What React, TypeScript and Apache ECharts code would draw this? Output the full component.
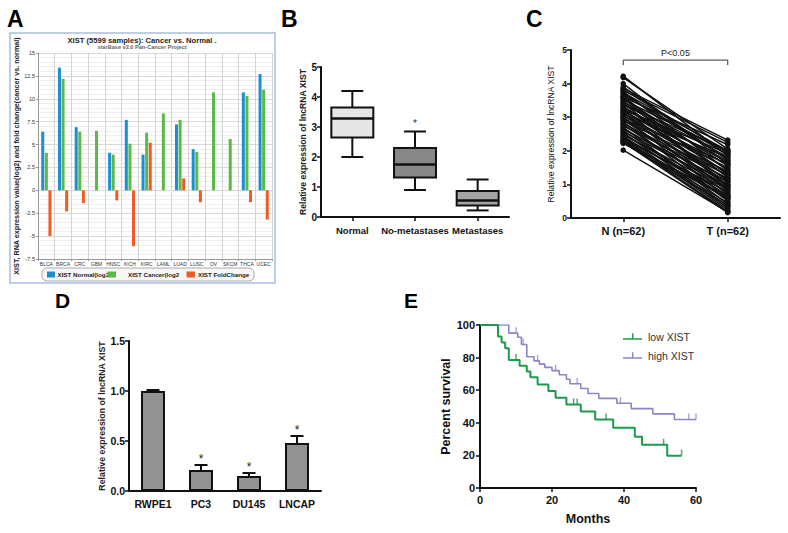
import React, { useEffect, useRef } from "react";
import * as echarts from "echarts";

// ---------- Panel A data ----------
const cancerTypes = ["BLCA", "BRCA", "CRC", "GBM", "HNSC", "KICH", "KIRC", "LAML", "LUAD", "LUSC", "OV", "SKCM", "THCA", "UCEC"];
const normalLog2: (number | string)[] = [6.4, 13.4, 6.9, "-", 4.1, 7.7, 3.9, "-", 7.2, 4.5, "-", "-", 10.7, 12.7];
const cancerLog2: (number | string)[] = [4.1, 12.2, 6.4, 6.5, 3.9, 5.1, 6.3, 8.4, 7.7, 4.2, 10.7, 5.6, 10.3, 11.0];
const foldChange: (number | string)[] = [-5.0, -2.3, -1.4, "-", -1.1, -6.1, 5.2, "-", 1.3, -1.3, "-", "-", -1.3, -3.2];
const aLegend = ["XIST Normal(log2", "XIST Cancer(log2", "XIST FoldChange"];
const aTitle = "XIST (5599 samples): Cancer vs. Normal .";
const aSubtitle = "starBase v2.0 Pan-Cancer Project";
const aYName = "XIST, RNA expression value(log2) and fold change(cancer vs. normal)";

// ---------- Panel B data ----------
const boxGroups = ["Normal", "No-metastases", "Metastases"];
// [min, Q1, median, Q3, max]
const boxNormal = [2.0, 2.65, 3.28, 3.65, 4.2];
const boxNoMet = [0.9, 1.32, 1.75, 2.3, 2.85];
const boxMet = [0.22, 0.38, 0.55, 0.87, 1.25];
const boxStars = ["", "*", ""];

// ---------- Panel C data ----------
const pairLabels = ["N (n=62)", "T (n=62)"];
const pairedN = [4.22, 4.18, 4.0, 3.86, 3.82, 3.8, 3.76, 3.73, 3.7, 3.66, 3.62, 3.6, 3.55, 3.52, 3.48, 3.45, 3.42, 3.4, 3.36, 3.33, 3.3, 3.28, 3.25, 3.22, 3.2, 3.17, 3.14, 3.12, 3.1, 3.06, 3.03, 3.0, 2.98, 2.95, 2.92, 2.9, 2.86, 2.83, 2.8, 2.77, 2.74, 2.7, 2.67, 2.64, 2.6, 2.57, 2.54, 2.5, 2.47, 2.44, 2.41, 2.38, 2.35, 2.32, 2.3, 2.28, 2.26, 2.24, 2.22, 3.9, 3.58, 2.02];
const pairedT = [1.85, 2.05, 1.6, 2.32, 1.95, 2.25, 1.4, 2.0, 1.75, 1.9, 1.2, 2.18, 1.55, 1.98, 1.3, 1.82, 0.95, 1.65, 2.02, 1.1, 1.45, 1.7, 0.8, 1.92, 1.35, 1.58, 0.7, 1.25, 1.8, 1.05, 1.5, 0.6, 1.15, 1.62, 0.9, 1.38, 0.5, 1.0, 1.28, 0.75, 1.18, 0.42, 0.88, 1.08, 0.55, 0.98, 0.35, 0.68, 0.85, 0.3, 0.62, 0.25, 0.78, 0.45, 0.2, 0.58, 0.16, 0.38, 0.65, 1.72, 0.92, 0.18];
const pText = "P<0.05";
const bracketLevel = 4.7;
const bracketFoot = 4.55;

// ---------- Panel D data ----------
const cellLines = ["RWPE1", "PC3", "DU145", "LNCAP"];
const cellMeans = [1.0, 0.21, 0.15, 0.48];
const cellErr = [0.01, 0.05, 0.03, 0.07];
const cellStars = ["", "*", "*", "*"];

// ---------- Panel E data ----------
const lowName = "low XIST";
const highName = "high XIST";
const lowCurve = [[0, 100], [5, 92.9], [6, 89.3], [7, 85.7], [8, 78.6], [11, 75], [13, 71.4], [14, 67.9], [16, 63.5], [19, 59.5], [21, 55.4], [24, 51.3], [28, 47], [32, 42], [37, 37], [43, 31.5], [45, 26.5], [52, 19.8], [56, 19.8]];
const lowCensor = [[10, 78.6], [26, 51.3], [27, 51.3], [35, 42], [51, 26.5], [56, 19.8]];
const highCurve = [[0, 100], [8, 95], [10.5, 92.5], [11.5, 88], [13, 80.5], [15, 78], [16.5, 76], [18, 74], [20, 72], [22, 69.5], [24, 66.7], [25, 64], [28, 61], [30, 58], [33, 55], [38, 52], [42, 48.7], [48, 45.5], [54, 42], [60, 42]];
const highCensor = [[10, 95], [12, 88], [16, 78], [21, 72], [27, 64], [39, 52], [58, 42], [60, 42]];

const FONT = "Liberation Sans, Arial, sans-serif";
const A_COLORS = ["#1b8fd2", "#5cb847", "#ef5b24"];
const BOX_FILLS = ["#e6e6e6", "#878787", "#a4a4a4"];

function buildOption(): any {
  const blackAxis = { lineStyle: { color: "#111", width: 2 } };
  const blackTick = { show: true, length: 4, lineStyle: { color: "#111", width: 1.5 } };

  const cSeries = pairedN.map((n, i) => ({
    type: "line",
    xAxisIndex: 2,
    yAxisIndex: 2,
    data: [n, pairedT[i]],
    symbol: "circle",
    symbolSize: 5.5,
    lineStyle: { color: "#111", width: 1.5 },
    itemStyle: { color: "#111" },
    silent: true,
    z: 3,
  }));

  return {
    animation: false,
    backgroundColor: "#fff",
    textStyle: { fontFamily: FONT },
    grid: [
      { left: 38, top: 53, width: 234, height: 206 },
      { left: 321, top: 67, width: 188, height: 150 },
      { left: 571, top: 50, width: 209, height: 168 },
      { left: 129, top: 341, width: 192, height: 150 },
      { left: 480, top: 325, width: 216, height: 163 },
    ],
    legend: [
      {
        data: [lowName, highName],
        orient: "vertical",
        left: 618,
        top: 326,
        itemWidth: 19,
        itemHeight: 8,
        itemGap: 8,
        icon: "path://M0,6L19,6L19,7.6L0,7.6Z M9,1L10.4,1L10.4,6L9,6Z",
        textStyle: { fontSize: 10.5, color: "#333", fontFamily: FONT, padding: [0, 0, 0, 1] },
      },
    ],
    xAxis: [
      {
        gridIndex: 0,
        type: "category",
        data: cancerTypes,
        axisLine: { onZero: false, lineStyle: { color: "#999", width: 1 } },
        axisTick: { show: true, length: 2, lineStyle: { color: "#999" } },
        axisLabel: { fontSize: 5, color: "#333", interval: 0, margin: 2 },
        splitLine: { show: true, lineStyle: { color: "#d4d4d4", width: 1 } },
      },
      {
        gridIndex: 1,
        type: "category",
        data: boxGroups,
        axisLine: blackAxis,
        axisTick: { ...blackTick, alignWithLabel: true },
        axisLabel: { fontSize: 9.5, fontWeight: "bold", color: "#111", margin: 8, interval: 0, hideOverlap: false },
      },
      {
        gridIndex: 2,
        type: "category",
        data: pairLabels,
        axisLine: blackAxis,
        axisTick: { ...blackTick, alignWithLabel: true },
        axisLabel: { fontSize: 11, fontWeight: "bold", color: "#111", margin: 7, interval: 0 },
      },
      {
        gridIndex: 3,
        type: "category",
        data: cellLines,
        axisLine: blackAxis,
        axisTick: { show: false },
        axisLabel: { fontSize: 10.5, fontWeight: "bold", color: "#111", margin: 7, interval: 0, hideOverlap: false },
      },
      {
        gridIndex: 4,
        type: "value",
        min: 0,
        max: 60,
        interval: 20,
        axisLine: { show: true, lineStyle: { color: "#111", width: 2 } },
        axisTick: blackTick,
        axisLabel: { fontSize: 11, fontWeight: "bold", color: "#111", margin: 6 },
        splitLine: { show: false },
        name: "Months",
        nameLocation: "middle",
        nameGap: 24,
        nameTextStyle: { fontSize: 12.5, fontWeight: "bold", color: "#111" },
      },
    ],
    yAxis: [
      {
        gridIndex: 0,
        type: "value",
        min: -7.5,
        max: 15,
        interval: 2.5,
        axisLine: { show: true, lineStyle: { color: "#999", width: 1 } },
        axisTick: { show: true, length: 2, lineStyle: { color: "#999" } },
        axisLabel: { fontSize: 5.5, color: "#333", margin: 3 },
        splitLine: { show: true, lineStyle: { color: "#d8d8d8", width: 1 } },
        minorTick: { show: false, splitNumber: 5 },
        minorSplitLine: { show: true, lineStyle: { color: "#efefef", width: 1 } },
        name: aYName,
        nameLocation: "middle",
        nameGap: 16,
        nameTextStyle: { fontSize: 7.2, fontWeight: "bold", color: "#222" },
      },
      {
        gridIndex: 1,
        type: "value",
        min: 0,
        max: 5,
        interval: 1,
        axisLine: { show: true, ...blackAxis },
        axisTick: blackTick,
        axisLabel: { fontSize: 10, fontWeight: "bold", color: "#111", margin: 4 },
        splitLine: { show: false },
        name: "Relative expression of lncRNA XIST",
        nameLocation: "middle",
        nameGap: 14,
        nameTextStyle: { fontSize: 8.6, fontWeight: "bold", color: "#222" },
      },
      {
        gridIndex: 2,
        type: "value",
        min: 0,
        max: 5,
        interval: 1,
        axisLine: { show: true, ...blackAxis },
        axisTick: blackTick,
        axisLabel: { fontSize: 8.5, fontWeight: "bold", color: "#111", margin: 4 },
        splitLine: { show: false },
        name: "Relative expression of lncRNA XIST",
        nameLocation: "middle",
        nameGap: 16,
        nameTextStyle: { fontSize: 8.6, color: "#111" },
      },
      {
        gridIndex: 3,
        type: "value",
        min: 0,
        max: 1.5,
        interval: 0.5,
        axisLine: { show: true, ...blackAxis },
        axisTick: blackTick,
        axisLabel: { fontSize: 10.5, fontWeight: "bold", color: "#111", margin: 4, formatter: (v: number) => v.toFixed(1) },
        splitLine: { show: false },
        name: "Relative expression of lncRNA XIST",
        nameLocation: "middle",
        nameGap: 21,
        nameTextStyle: { fontSize: 8.8, fontWeight: "bold", color: "#222" },
      },
      {
        gridIndex: 4,
        type: "value",
        min: 0,
        max: 100,
        interval: 20,
        axisLine: { show: true, lineStyle: { color: "#111", width: 2 } },
        axisTick: blackTick,
        axisLabel: { fontSize: 11, fontWeight: "bold", color: "#111", margin: 5 },
        splitLine: { show: false },
        name: "Percent survival",
        nameLocation: "middle",
        nameGap: 27,
        nameTextStyle: { fontSize: 12.5, fontWeight: "bold", color: "#111" },
      },
    ],
    graphic: [
      // panel letters
      { type: "text", left: 7, top: 7, style: { text: "A", font: `bold 23px ${FONT}`, fill: "#000" } },
      { type: "text", left: 281, top: 7, style: { text: "B", font: `bold 23px ${FONT}`, fill: "#000" } },
      { type: "text", left: 526, top: 7, style: { text: "C", font: `bold 23px ${FONT}`, fill: "#000" } },
      { type: "text", left: 55, top: 290, style: { text: "D", font: `bold 21px ${FONT}`, fill: "#000" } },
      { type: "text", left: 404, top: 290, style: { text: "E", font: `bold 21px ${FONT}`, fill: "#000" } },
      // panel A frame
      { type: "rect", shape: { x: 10, y: 33, width: 265, height: 250 }, style: { fill: "none", stroke: "#a9bfdc", lineWidth: 1.5 }, z: 10 },
      { type: "text", x: 142, y: 40, style: { text: aTitle, font: `bold 7.6px ${FONT}`, fill: "#222", align: "center", verticalAlign: "middle" }, z: 10 },
      { type: "text", x: 142, y: 46.5, style: { text: aSubtitle, font: `bold 5.6px ${FONT}`, fill: "#666", align: "center", verticalAlign: "middle" }, z: 10 },
      // panel A legend
      { type: "rect", shape: { x: 42, y: 268, width: 212, height: 13, r: 5 }, style: { fill: "#f7f7f7", stroke: "#aaa", lineWidth: 1 }, z: 10 },
      { type: "rect", shape: { x: 47, y: 271.5, width: 8, height: 6 }, style: { fill: A_COLORS[0] }, z: 11 },
      { type: "text", x: 57.5, y: 274.8, style: { text: aLegend[0], font: `bold 6.2px ${FONT}`, fill: "#222", verticalAlign: "middle" }, z: 11 },
      { type: "rect", shape: { x: 107.5, y: 271.5, width: 8.5, height: 6 }, style: { fill: A_COLORS[1] }, z: 12 },
      { type: "text", x: 128, y: 274.8, style: { text: aLegend[1], font: `bold 6.2px ${FONT}`, fill: "#222", verticalAlign: "middle" }, z: 11 },
      { type: "rect", shape: { x: 186.5, y: 271.5, width: 8.5, height: 6 }, style: { fill: A_COLORS[2] }, z: 12 },
      { type: "text", x: 198, y: 274.8, style: { text: aLegend[2], font: `bold 6.2px ${FONT}`, fill: "#222", verticalAlign: "middle" }, z: 11 },
    ],
    series: [
      // A
      { type: "bar", name: aLegend[0], xAxisIndex: 0, yAxisIndex: 0, data: normalLog2, barWidth: 3, barGap: "20%", itemStyle: { color: A_COLORS[0] } },
      { type: "bar", name: aLegend[1], xAxisIndex: 0, yAxisIndex: 0, data: cancerLog2, barWidth: 3, barGap: "20%", itemStyle: { color: A_COLORS[1] } },
      { type: "bar", name: aLegend[2], xAxisIndex: 0, yAxisIndex: 0, data: foldChange, barWidth: 3, barGap: "20%", itemStyle: { color: A_COLORS[2] } },
      // B boxplots
      {
        type: "custom",
        xAxisIndex: 1,
        yAxisIndex: 1,
        data: [boxNormal, boxNoMet, boxMet].map((s, i) => [i, ...s]),
        encode: { x: 0, y: [1, 2, 3, 4, 5] },
        renderItem: (params: any, api: any) => {
          const idx = api.value(0);
          const vals = [1, 2, 3, 4, 5].map((k) => api.value(k));
          const x = api.coord([idx, 0])[0];
          const y = vals.map((v: number) => api.coord([idx, v])[1]);
          const band = api.size([1, 0])[0];
          const bw = band * 0.67;
          const cw = bw * 0.52;
          const ls = { stroke: "#111", lineWidth: 2 };
          const children: any[] = [
            { type: "line", shape: { x1: x, y1: y[4], x2: x, y2: y[3] }, style: ls },
            { type: "line", shape: { x1: x, y1: y[1], x2: x, y2: y[0] }, style: ls },
            { type: "line", shape: { x1: x - cw / 2, y1: y[4], x2: x + cw / 2, y2: y[4] }, style: ls },
            { type: "line", shape: { x1: x - cw / 2, y1: y[0], x2: x + cw / 2, y2: y[0] }, style: ls },
            { type: "rect", shape: { x: x - bw / 2, y: y[3], width: bw, height: y[1] - y[3] }, style: { fill: BOX_FILLS[params.dataIndex], stroke: "#111", lineWidth: 2 } },
            { type: "line", shape: { x1: x - bw / 2, y1: y[2], x2: x + bw / 2, y2: y[2] }, style: { stroke: "#111", lineWidth: 2.5 } },
          ];
          const star = boxStars[params.dataIndex];
          if (star) {
            children.push({ type: "text", style: { text: star, x, y: y[4] - 3, align: "center", verticalAlign: "bottom", font: `10px ${FONT}`, fill: "#333" } });
          }
          return { type: "group", children };
        },
      },
      // C paired lines
      ...cSeries,
      {
        type: "custom",
        xAxisIndex: 2,
        yAxisIndex: 2,
        data: [[0, 1, bracketLevel, bracketFoot]],
        renderItem: (_params: any, api: any) => {
          const p0 = api.coord([api.value(0), api.value(2)]);
          const p1 = api.coord([api.value(1), api.value(2)]);
          const f = api.coord([api.value(0), api.value(3)])[1];
          const st = { stroke: "#333", lineWidth: 1 };
          return {
            type: "group",
            children: [
              { type: "line", shape: { x1: p0[0], y1: p0[1], x2: p1[0], y2: p1[1] }, style: st },
              { type: "line", shape: { x1: p0[0], y1: p0[1], x2: p0[0], y2: f }, style: st },
              { type: "line", shape: { x1: p1[0], y1: p1[1], x2: p1[0], y2: f }, style: st },
              { type: "text", style: { text: pText, x: (p0[0] + p1[0]) / 2, y: p0[1] - 3, align: "center", verticalAlign: "bottom", font: `9px ${FONT}`, fill: "#222" } },
            ],
          };
        },
      },
      // D bars
      {
        type: "bar",
        xAxisIndex: 3,
        yAxisIndex: 3,
        data: cellMeans,
        barWidth: 24,
        itemStyle: { color: "#929292", borderColor: "#111", borderWidth: 2 },
      },
      {
        type: "custom",
        xAxisIndex: 3,
        yAxisIndex: 3,
        data: cellMeans.map((m, i) => [i, m, m + cellErr[i]]),
        renderItem: (params: any, api: any) => {
          const i = api.value(0);
          const top = api.coord([i, api.value(1)]);
          const cap = api.coord([i, api.value(2)]);
          const st = { stroke: "#111", lineWidth: 2 };
          const children: any[] = [
            { type: "line", shape: { x1: top[0], y1: top[1], x2: cap[0], y2: cap[1] }, style: st },
            { type: "line", shape: { x1: cap[0] - 6.5, y1: cap[1], x2: cap[0] + 6.5, y2: cap[1] }, style: st },
          ];
          const star = cellStars[params.dataIndex];
          if (star) {
            children.push({ type: "text", style: { text: star, x: cap[0], y: cap[1], align: "center", verticalAlign: "bottom", font: `12px ${FONT}`, fill: "#222" } });
          }
          return { type: "group", children };
        },
      },
      // E survival curves
      { type: "line", name: lowName, xAxisIndex: 4, yAxisIndex: 4, data: lowCurve, step: "end", showSymbol: false, lineStyle: { color: "#1f9a4c", width: 2 }, itemStyle: { color: "#1f9a4c" }, z: 4 },
      { type: "line", name: highName, xAxisIndex: 4, yAxisIndex: 4, data: highCurve, step: "end", showSymbol: false, lineStyle: { color: "#8a86c8", width: 1.6 }, itemStyle: { color: "#8a86c8" }, z: 3 },
      { type: "scatter", name: "low censored", xAxisIndex: 4, yAxisIndex: 4, data: lowCensor, symbol: "rect", symbolSize: [1.5, 6], symbolOffset: [0, -3], itemStyle: { color: "#1f9a4c" }, z: 4 },
      { type: "scatter", name: "high censored", xAxisIndex: 4, yAxisIndex: 4, data: highCensor, symbol: "rect", symbolSize: [1.3, 6], symbolOffset: [0, -3], itemStyle: { color: "#8a86c8" }, z: 3 },
    ],
  };
}

export default function App() {
  const ref = useRef<HTMLDivElement>(null);
  useEffect(() => {
    if (!ref.current) return;
    const chart = echarts.init(ref.current, undefined, { renderer: "svg" });
    chart.setOption(buildOption());
    return () => chart.dispose();
  }, []);
  return <div ref={ref} style={{ position: "absolute", left: 0, top: 0, width: 788, height: 533 }} />;
}
